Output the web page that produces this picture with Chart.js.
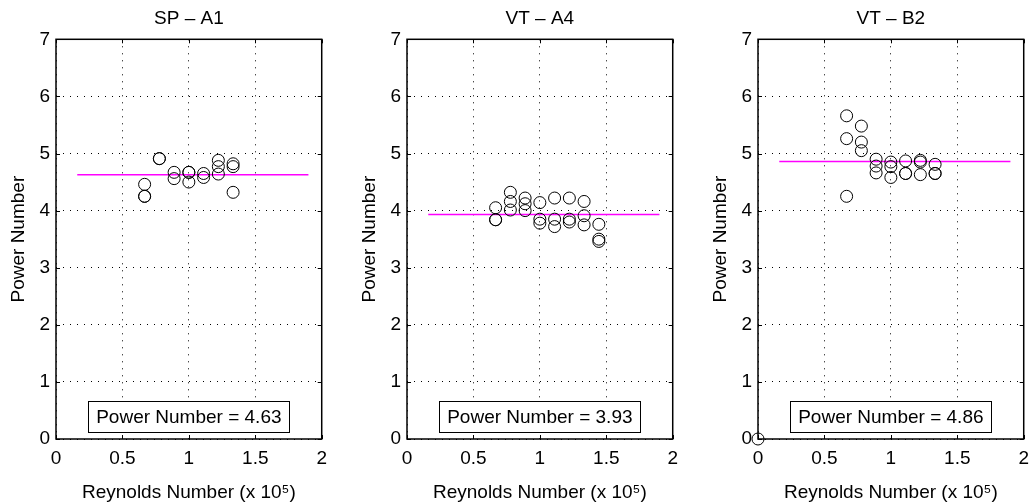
<!DOCTYPE html>
<html>
<head>
<meta charset="utf-8">
<script src="https://cdn.jsdelivr.net/npm/chart.js@4/dist/chart.umd.min.js"></script>
<style>
  html, body { margin: 0; padding: 0; background: #fff; overflow: hidden; }
  #wrap { position: relative; width: 1030px; height: 504px; }
  #wrap canvas { position: absolute; top: 0; }
</style>
</head>
<body>
<div id="wrap">
  <canvas id="c0" width="335" height="504" style="left:0px"></canvas>
  <canvas id="c1" width="335" height="504" style="left:350.7px"></canvas>
  <canvas id="c2" width="335" height="504" style="left:701.7px"></canvas>
</div>
<script>
// panel titles
const panelTitles = ["SP \u2013 A1", "VT \u2013 A4", "VT \u2013 B2"];

// SP - A1 (Reynolds x 1e5, power number)
const spA1Re = [0.667, 0.667, 0.667, 0.778, 0.778, 0.889, 0.889, 1.0, 1.0, 1.0,
                1.111, 1.111, 1.222, 1.222, 1.222, 1.333, 1.333, 1.333];
const spA1Po = [4.46, 4.25, 4.25, 4.91, 4.91, 4.67, 4.56, 4.67, 4.67, 4.50,
                4.65, 4.58, 4.88, 4.77, 4.64, 4.82, 4.77, 4.32];

// VT - A4
const vtA4Re = [0.667, 0.667, 0.667, 0.778, 0.778, 0.778, 0.889, 0.889, 0.889,
                1.0, 1.0, 1.0, 1.111, 1.111, 1.111, 1.222, 1.222, 1.222,
                1.333, 1.333, 1.333, 1.444, 1.444, 1.444];
const vtA4Po = [4.05, 3.84, 3.84, 4.32, 4.16, 4.01, 4.22, 4.12, 4.00,
                4.14, 3.85, 3.78, 4.22, 3.85, 3.72, 4.22, 3.85, 3.80,
                4.16, 3.91, 3.75, 3.76, 3.50, 3.46];

// VT - B2
const vtB2Re = [0, 0.667, 0.667, 0.667, 0.778, 0.778, 0.778, 0.889, 0.889, 0.889,
                1.0, 1.0, 1.0, 1.111, 1.111, 1.111, 1.222, 1.222, 1.222,
                1.333, 1.333, 1.333];
const vtB2Po = [0, 5.66, 5.26, 4.25, 5.48, 5.20, 5.05, 4.90, 4.78, 4.66,
                4.85, 4.77, 4.58, 4.87, 4.65, 4.65, 4.88, 4.85, 4.63,
                4.81, 4.65, 4.65];

// mean power numbers and the x extent of the mean line
const powerMeans = [4.63, 3.93, 4.86];
const meanLineRe = [0.16, 1.9];

const xTickLabels = ["0", "0.5", "1", "1.5", "2"];
const yTickLabels = ["0", "1", "2", "3", "4", "5", "6", "7"];

const FONT = "'Liberation Sans', Arial, Helvetica, sans-serif";

const reList = [spA1Re, vtA4Re, vtB2Re];
const poList = [spA1Po, vtA4Po, vtB2Po];

// box, inward ticks
const boxPlugin = {
  id: "matlabBox",
  beforeDatasetsDraw(chart) {
    const { ctx, chartArea: a, scales } = chart;
    ctx.save();
    ctx.strokeStyle = "#000";
    ctx.lineWidth = 1;
    const tl = 4;
    scales.x.ticks.forEach(t => {
      const px = Math.round(scales.x.getPixelForValue(t.value)) + 0.5;
      ctx.beginPath();
      ctx.moveTo(px, a.bottom); ctx.lineTo(px, a.bottom - tl);
      ctx.moveTo(px, a.top); ctx.lineTo(px, a.top + tl);
      ctx.stroke();
    });
    scales.y.ticks.forEach(t => {
      const py = Math.round(scales.y.getPixelForValue(t.value)) + 0.5;
      ctx.beginPath();
      ctx.moveTo(a.left, py); ctx.lineTo(a.left + tl, py);
      ctx.moveTo(a.right, py); ctx.lineTo(a.right - tl, py);
      ctx.stroke();
    });
    ctx.lineWidth = 1.5;
    ctx.strokeRect(a.left, a.top, a.right - a.left, a.bottom - a.top);
    ctx.restore();
  }
};

// "Power Number = x.xx" label box
const labelPlugin = {
  id: "meanLabel",
  afterDatasetsDraw(chart, args, opts) {
    const { ctx, scales } = chart;
    const cx = scales.x.getPixelForValue(1);
    const cy = scales.y.getPixelForValue(0.39);
    ctx.save();
    ctx.font = "19px " + FONT;
    const w = ctx.measureText(opts.text).width + 16;
    const h = 31;
    ctx.fillStyle = "#fff";
    ctx.fillRect(cx - w / 2, cy - h / 2, w, h);
    ctx.strokeStyle = "#000";
    ctx.lineWidth = 1;
    ctx.strokeRect(Math.round(cx - w / 2) + 0.5, Math.round(cy - h / 2) + 0.5, Math.round(w), h);
    ctx.fillStyle = "#000";
    ctx.textAlign = "center";
    ctx.textBaseline = "middle";
    ctx.fillText(opts.text, cx, cy + 1);
    ctx.restore();
  }
};

function makePanel(i) {
  const pts = reList[i].map((re, k) => ({ x: re, y: poList[i][k] }));
  const meanPts = meanLineRe.map(re => ({ x: re, y: powerMeans[i] }));
  return new Chart(document.getElementById("c" + i), {
    type: "scatter",
    data: {
      datasets: [{
        data: pts,
        pointStyle: "circle",
        pointRadius: 6,
        pointHoverRadius: 6,
        borderColor: "#000",
        borderWidth: 1,
        backgroundColor: "rgba(0,0,0,0)",
        clip: false
      }, {
        type: "line",
        data: meanPts,
        borderColor: "#ff00ff",
        borderWidth: 1.5,
        pointRadius: 0,
        fill: false
      }]
    },
    options: {
      responsive: false,
      animation: false,
      devicePixelRatio: 1,
      layout: { padding: { left: 0, right: 11.7, top: 0, bottom: 0 } },
      plugins: {
        legend: { display: false },
        tooltip: { enabled: false },
        title: {
          display: true,
          text: panelTitles[i],
          fullSize: false,
          color: "#000",
          font: { family: FONT, size: 19, weight: "normal", lineHeight: 1.2 },
          padding: { top: 7.1, bottom: 9.4 }
        },
        meanLabel: { text: "Power Number = " + powerMeans[i].toFixed(2) }
      },
      scales: {
        x: {
          type: "linear",
          min: 0, max: 2,
          ticks: {
            stepSize: 0.5,
            color: "#000",
            padding: 8,
            maxRotation: 0,
            font: { family: FONT, size: 19 },
            callback: (v, k) => xTickLabels[k]
          },
          grid: { color: "#000", lineWidth: 1, drawTicks: false },
          border: { display: false, dash: [1, 6] },
          title: {
            display: true,
            text: "Reynolds Number (x 10\u2075)",
            color: "#000",
            font: { family: FONT, size: 19 },
            padding: { top: 8.6, bottom: 0 }
          },
          afterFit: s => { s.height = 65; }
        },
        y: {
          type: "linear",
          min: 0, max: 7,
          ticks: {
            stepSize: 1,
            color: "#000",
            padding: 6,
            font: { family: FONT, size: 19 },
            callback: (v, k) => yTickLabels[k]
          },
          grid: { color: "#000", lineWidth: 1, drawTicks: false },
          border: { display: false, dash: [1, 6] },
          title: {
            display: true,
            text: "Power Number",
            color: "#000",
            font: { family: FONT, size: 19 },
            padding: { top: 7, bottom: 0 }
          },
          afterFit: s => { s.width = 56; }
        }
      }
    },
    plugins: [boxPlugin, labelPlugin]
  });
}

[0, 1, 2].forEach(makePanel);
</script>
</body>
</html>
